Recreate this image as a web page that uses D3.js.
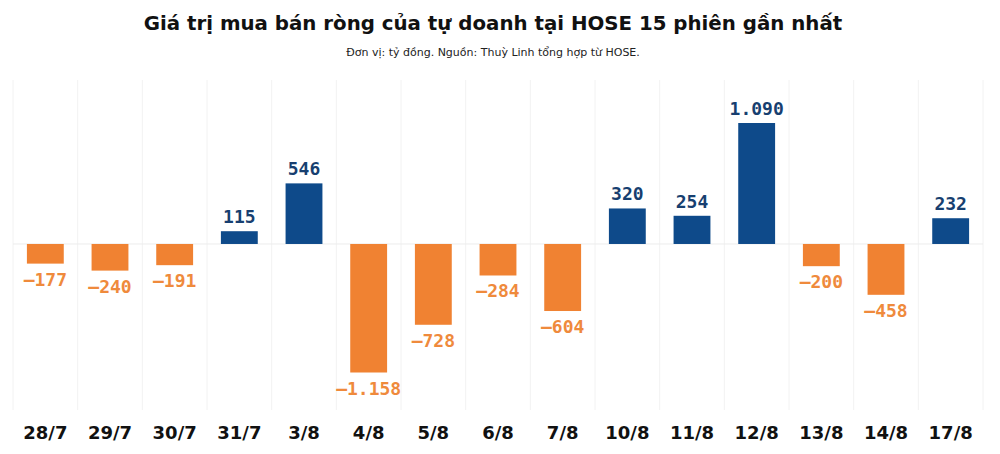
<!DOCTYPE html>
<html><head><meta charset="utf-8">
<script src="https://cdn.jsdelivr.net/npm/d3@7"></script>
<style>body{margin:0;background:#fff}svg{display:block}</style>
</head><body>
<svg id="c" width="1000" height="454"></svg>
<script>
const categories = ["28/7","29/7","30/7","31/7","3/8","4/8","5/8","6/8","7/8","10/8","11/8","12/8","13/8","14/8","17/8"];
const values = [-177,-240,-191,115,546,-1158,-728,-284,-604,320,254,1090,-200,-458,232];
const labels = ["-177","-240","-191","115","546","-1.158","-728","-284","-604","320","254","1.090","-200","-458","232"];
const title = "Giá trị mua bán ròng của tự doanh tại HOSE 15 phiên gần nhất";
const subtitle = "Đơn vị: tỷ đồng. Nguồn: Thuỳ Linh tổng hợp từ HOSE.";

const svg = d3.select("#c");
const x = d3.scaleBand().domain(categories).range([13, 983]).paddingInner(0.43).paddingOuter(0.215);
const xs = d3.scaleBand().domain(categories).range([13, 983]);
const y = d3.scaleLinear().domain([-1158, 1090]).range([372.5, 123]);

// faint column grid
svg.append("g").selectAll("line").data(categories.concat(["end"])).join("line")
  .attr("x1", (d,i)=> 13 + i*xs.step()).attr("x2", (d,i)=> 13 + i*xs.step())
  .attr("y1", 80).attr("y2", 410).attr("stroke", "#f2f2f2").attr("stroke-width", 1);
// baseline
svg.append("line").attr("x1",13).attr("x2",983).attr("y1",y(0)).attr("y2",y(0))
  .attr("stroke","#ececec").attr("stroke-width",1);

svg.append("text").attr("x",493).attr("y",30).attr("text-anchor","middle")
  .attr("font-family","DejaVu Sans").attr("font-weight","bold").attr("font-size",19.8)
  .attr("fill","#111").text(title);
svg.append("text").attr("x",493).attr("y",56).attr("text-anchor","middle")
  .attr("font-family","DejaVu Sans").attr("font-size",11)
  .attr("fill","#222").text(subtitle);

const data = categories.map((c,i)=>({c, v: values[i], l: labels[i]}));
svg.append("g").selectAll("rect").data(data).join("rect")
  .attr("x", d=>x(d.c)).attr("width", x.bandwidth())
  .attr("y", d=>y(Math.max(0,d.v))).attr("height", d=>Math.abs(y(d.v)-y(0)))
  .attr("fill", d=> d.v>=0 ? "#0e4a8a" : "#f08232");

svg.append("g").selectAll("text").data(data).join("text")
  .attr("x", d=>x(d.c)+x.bandwidth()/2)
  .attr("y", d=> d.v>=0 ? y(d.v)-8 : y(d.v)+22)
  .attr("text-anchor","middle")
  .attr("font-family","DejaVu Sans Mono").attr("font-weight","bold").attr("font-size",18)
  .attr("fill", d=> d.v>=0 ? "#173f70" : "#ef8a3c")
  .text(d=>d.l.replace("-", "\u2013"));

const ax = d3.axisBottom(xs).tickSize(0).tickPadding(0);
const g = svg.append("g").attr("transform","translate(0,425)").call(ax);
g.select(".domain").remove();
g.selectAll("text").attr("font-family","DejaVu Sans").attr("font-weight","bold")
  .attr("font-size",18).attr("fill","#111").attr("dy","0.78em");
</script>
</body></html>
